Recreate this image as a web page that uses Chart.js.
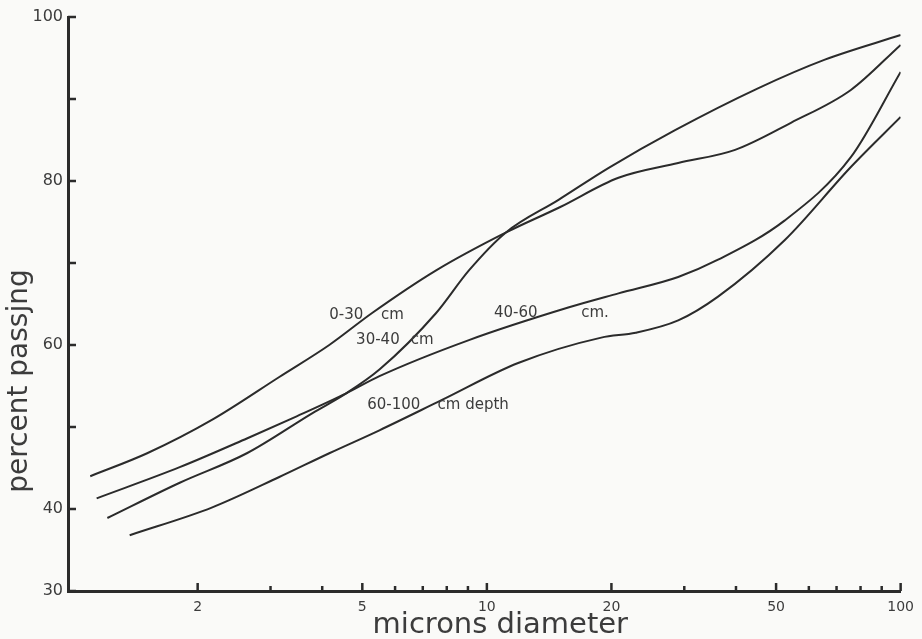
<!DOCTYPE html>
<html>
<head>
<meta charset="utf-8">
<script src="https://cdn.jsdelivr.net/npm/chart.js@4.4.1/dist/chart.umd.min.js"></script>
<style>
  html, body { margin: 0; padding: 0; background: #fafaf8; }
  #wrap { width: 922px; height: 639px; }
</style>
</head>
<body>
<div id="wrap"><canvas id="chart" width="922" height="639"></canvas></div>
<script>
// ===== DATA: particle size (microns) vs percent passing =====
const size0_30 = [1.10, 1.51, 2.17, 3.15, 4.16, 5.28, 7.54, 11.1, 15.0, 20.8, 29.0, 39.8, 54.3, 75.8, 100];
const pass0_30 = [44.0, 46.8, 50.9, 56.1, 60.0, 63.9, 69.1, 73.7, 76.8, 80.4, 82.2, 83.8, 87.1, 91.1, 96.6];

const size30_40 = [1.21, 1.81, 2.63, 3.79, 4.57, 5.50, 7.54, 9.05, 11.1, 14.9, 19.7, 28.5, 45.2, 65.6, 100];
const pass30_40 = [38.9, 43.2, 46.8, 51.7, 54.1, 57.0, 63.9, 69.1, 73.7, 77.7, 81.6, 86.2, 91.3, 94.8, 97.8];

const size40_60 = [1.14, 1.81, 2.63, 3.47, 4.57, 5.50, 9.05, 15.8, 20.8, 29.0, 36.2, 52.5, 75.8, 100];
const pass40_60 = [41.3, 45.1, 48.6, 51.3, 54.1, 56.2, 60.6, 64.6, 66.3, 68.3, 70.4, 75.2, 82.9, 93.3];

const size60_100 = [1.37, 2.17, 3.15, 4.16, 5.50, 7.79, 11.9, 18.9, 22.9, 29.0, 36.2, 52.5, 75.8, 100];
const pass60_100 = [36.8, 40.2, 43.9, 46.8, 49.6, 53.3, 57.8, 60.9, 61.5, 63.0, 65.9, 72.8, 81.7, 87.8];

// axis ticks
const xLabelTicks = [2, 5, 10, 20, 50, 100];
const xMinorTicks = [3, 4, 6, 7, 8, 9, 30, 40, 60, 70, 80, 90];
const yLabelTicks = [30, 40, 60, 80, 100];
const yMinorTicks = [50, 70, 90];

// curve captions, placed in data units
const noteText = ['0-30', 'cm', '30-40', 'cm', '40-60', 'cm.', '60-100', 'cm depth'];
const noteSize = [4.16, 5.55, 4.83, 6.55, 10.4, 16.9, 5.14, 7.6];
const notePass = [63.7, 63.7, 60.6, 60.6, 63.9, 63.9, 52.7, 52.7];

const ink = '#2b2b2b';
const textInk = '#3c3c3c';
const family = '"DejaVu Sans", sans-serif';

function pts(xs, ys) {
    return xs.map((x, i) => ({ x: x, y: ys[i] }));
}

function curve(label, xs, ys) {
    return {
        label: label,
        data: pts(xs, ys),
        borderColor: ink,
        borderWidth: 2,
        pointRadius: 0,
        fill: false,
        cubicInterpolationMode: 'monotone'
    };
}

// ===== inward tick marks on both axes =====
const innerTicks = {
    id: 'innerTicks',
    afterDraw(chart) {
        const { ctx, chartArea: a, scales: { x, y } } = chart;
        ctx.save();
        ctx.strokeStyle = ink;
        ctx.lineWidth = 2.5;
        ctx.beginPath();
        xLabelTicks.forEach(v => {
            const px = x.getPixelForValue(v);
            ctx.moveTo(px, a.bottom); ctx.lineTo(px, a.bottom - 8);
        });
        xMinorTicks.forEach(v => {
            const px = x.getPixelForValue(v);
            ctx.moveTo(px, a.bottom); ctx.lineTo(px, a.bottom - 5);
        });
        yLabelTicks.concat(yMinorTicks).forEach(v => {
            const py = y.getPixelForValue(v);
            ctx.moveTo(a.left, py); ctx.lineTo(a.left + 8, py);
        });
        ctx.stroke();
        ctx.restore();
    }
};

// ===== axis titles and curve captions =====
const captions = {
    id: 'captions',
    afterDraw(chart) {
        const { ctx, chartArea: a, scales: { x, y } } = chart;
        ctx.save();
        ctx.fillStyle = textInk;

        ctx.font = '15px ' + family;
        ctx.textAlign = 'left';
        ctx.textBaseline = 'middle';
        noteText.forEach((t, i) => {
            ctx.fillText(t, x.getPixelForValue(noteSize[i]), y.getPixelForValue(notePass[i]));
        });

        ctx.font = '29px ' + family;
        ctx.textAlign = 'center';
        ctx.textBaseline = 'alphabetic';
        ctx.fillText('microns diameter', (a.left + a.right) / 2 + 16, 633);

        ctx.font = '28px ' + family;
        ctx.translate(27, y.getPixelForValue(55.6));
        ctx.rotate(-Math.PI / 2);
        ctx.fillText('percent passjng', 0, 0);
        ctx.restore();
    }
};

const chart = new Chart(document.getElementById('chart'), {
    type: 'line',
    data: {
        datasets: [
            curve('0-30 cm', size0_30, pass0_30),
            curve('30-40 cm', size30_40, pass30_40),
            curve('40-60 cm', size40_60, pass40_60),
            curve('60-100 cm depth', size60_100, pass60_100)
        ]
    },
    options: {
        responsive: false,
        animation: false,
        layout: { padding: { top: 17, right: 19, left: 0, bottom: 0 } },
        plugins: {
            legend: { display: false },
            tooltip: { enabled: false }
        },
        scales: {
            x: {
                type: 'logarithmic',
                min: 0.972,
                max: 100,
                afterBuildTicks: s => { s.ticks = xLabelTicks.map(v => ({ value: v })); },
                afterFit: s => { s.height = 48; },
                grid: { display: false, drawTicks: false },
                border: { display: true, color: ink, width: 3 },
                ticks: {
                    autoSkip: false,
                    maxRotation: 0,
                    padding: 8,
                    color: textInk,
                    font: { family: family, size: 14 },
                    callback: v => String(v)
                }
            },
            y: {
                type: 'linear',
                min: 30,
                max: 100,
                afterBuildTicks: s => { s.ticks = yLabelTicks.map(v => ({ value: v })); },
                afterFit: s => { s.width = 68; },
                grid: { display: false, drawTicks: false },
                border: { display: true, color: ink, width: 3 },
                ticks: {
                    padding: 5,
                    color: textInk,
                    font: { family: family, size: 16 },
                    callback: v => String(v)
                }
            }
        }
    },
    plugins: [innerTicks, captions]
});
</script>
</body>
</html>
